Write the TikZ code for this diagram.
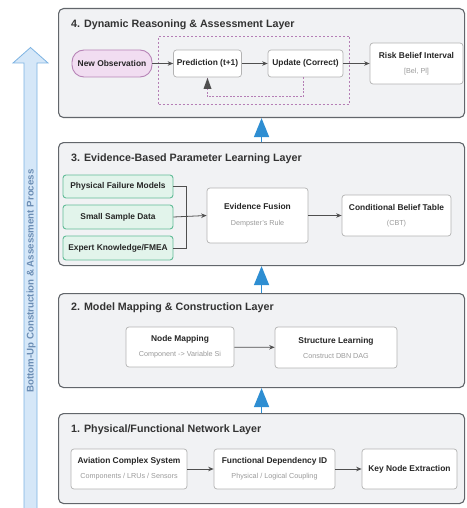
\documentclass[tikz,border=0pt]{standalone}
\usepackage{fontspec}
\setmainfont{Liberation Sans}
\usetikzlibrary{arrows.meta}
\definecolor{layerfill}{HTML}{F1F2F4}
\definecolor{layerdraw}{HTML}{62666B}
\definecolor{boxdraw}{HTML}{B3B3B3}
\definecolor{subgray}{HTML}{9A9A9A}
\definecolor{titlegray}{HTML}{333333}
\definecolor{greenfill}{HTML}{E2F4EB}
\definecolor{greendraw}{HTML}{62BC98}
\definecolor{pinkfill}{HTML}{F1DDF1}
\definecolor{pinkdraw}{HTML}{B784B7}
\definecolor{dashpurple}{HTML}{B57EB5}
\definecolor{conn}{HTML}{4F4F4F}
\definecolor{bluetri}{HTML}{2E8ED2}
\definecolor{sidefill}{HTML}{D5E7F8}
\definecolor{sidedraw}{HTML}{7DB3E2}
\definecolor{sidetext}{HTML}{6B8DB4}
\newcommand{\subtxt}[1]{{\fontsize{7.2}{9}\selectfont\mdseries\color{subgray}#1}}
\begin{document}
\begin{tikzpicture}[x=1pt,y=-1pt,
  layer/.style={draw=layerdraw, fill=layerfill, line width=1.1pt, rounded corners=5pt, anchor=north west, inner sep=0pt},
  title/.style={anchor=west, font=\fontsize{10.7}{12}\selectfont\bfseries, text=titlegray, inner sep=0pt},
  box/.style={draw=boxdraw, fill=white, line width=0.7pt, rounded corners=3pt, inner sep=1pt, align=center,
    font=\fontsize{8.4}{15}\selectfont\bfseries, text=black!85},
  gbox/.style={box, draw=greendraw, fill=greenfill, line width=0.9pt},
  pill/.style={box, draw=pinkdraw, fill=pinkfill, rounded corners=12pt, line width=0.9pt},
  arr/.style={draw=conn, line width=0.8pt, -{Stealth[length=5.5pt,width=4.5pt]}},
  line/.style={draw=conn, line width=0.8pt},
  fb/.style={draw=dashpurple, line width=1pt, dash pattern=on 2pt off 1.5pt},
  uparrow/.style={draw=bluetri, line width=1.6pt, -{Triangle[length=19pt,width=15pt]}}
]
\useasboundingbox (0,0) rectangle (466,508);

% side arrow
\draw[fill=sidefill, draw=sidedraw, line width=0.8pt]
  (24,509) -- (24,63) -- (13,63) -- (30.5,47.5) -- (48,63) -- (37,63) -- (37,509);
\node[rotate=90, font=\fontsize{9.7}{11}\selectfont\bfseries, text=sidetext, inner sep=0pt] (side) at (31,281) {Bottom-Up Construction \& Assessment Process};

% layers
\node[layer, minimum width=406pt, minimum height=109pt] (L4) at (58,8) {};
\node[layer, minimum width=406pt, minimum height=123pt] (L3) at (58,142) {};
\node[layer, minimum width=406pt, minimum height=94pt] (L2) at (58,293) {};
\node[layer, minimum width=406pt, minimum height=90pt] (L1) at (58,413) {};

\node[title] (T4) at (71,25) {4. Dynamic Reasoning \& Assessment Layer};
\node[title] (T3) at (71,159) {3. Evidence-Based Parameter Learning Layer};
\node[title] (T2) at (71,308) {2. Model Mapping \& Construction Layer};
\node[title] (T1) at (71,430) {1. Physical/Functional Network Layer};

% inter-layer arrows
\draw[uparrow] (L3.north) -- (L4.south);
\draw[uparrow] (L2.north) -- (L3.south);
\draw[uparrow] (L1.north) -- (L2.south);

% layer 4
\node[draw=dashpurple, line width=0.9pt, dash pattern=on 2pt off 2pt, minimum width=191pt, minimum height=68pt, inner sep=0pt] (loop) at (254,70) {};
\node[pill, minimum width=80pt, minimum height=27pt] (obs) at (112,63.5) {New Observation};
\node[box, minimum width=68pt, minimum height=27pt] (pred) at (207.5,63.5) {Prediction (t+1)};
\node[box, minimum width=75pt, minimum height=27pt] (upd) at (305.5,63.5) {Update (Correct)};
\node[box, minimum width=93pt, minimum height=41pt] (risk) at (416.5,63.5) {Risk Belief Interval\\\subtxt{[Bel, Pl]}};
\draw[arr] (obs) -- (pred);
\draw[arr] (pred) -- (upd);
\draw[arr] (upd) -- (risk);
\coordinate (fb1) at (303,97);
\coordinate (fb2) at (207,97);
\draw[fb] (upd.south -| fb1) -- (fb1) -- (fb2) -- (fb2 |- pred.south);
\fill[conn] (pred.south) ++(0,0.5) -- ++(-4,11) -- ++(8,0) -- cycle;

% layer 3
\node[gbox, minimum width=110pt, minimum height=23pt] (pfm) at (118,186.5) {Physical Failure Models};
\node[gbox, minimum width=110pt, minimum height=24pt] (ssd) at (118,217) {Small Sample Data};
\node[gbox, minimum width=110pt, minimum height=24pt] (ekf) at (118,248) {Expert Knowledge/FMEA};
\node[box, minimum width=101pt, minimum height=55pt] (ef) at (257.5,215.5) {Evidence Fusion\\[1pt]\subtxt{Dempster's Rule}};
\node[box, minimum width=109pt, minimum height=41pt] (cbt) at (396.5,215.5) {Conditional Belief Table\\\subtxt{(CBT)}};
\coordinate (bus) at (186,217);
\draw[line] (pfm.east) -| (bus);
\draw[line] (ekf.east) -| (bus);
\draw[arr] (ssd.east) -- (ef.west);
\draw[arr] (ef) -- (cbt);

% layer 2
\node[box, minimum width=108pt, minimum height=40pt] (nm) at (180,347) {Node Mapping\\\subtxt{Component -> Variable Si}};
\node[box, minimum width=122pt, minimum height=41pt] (sl) at (336,347.5) {Structure Learning\\\subtxt{Construct DBN DAG}};
\draw[arr] (nm) -- (sl);

% layer 1
\node[box, minimum width=116pt, minimum height=40pt] (acs) at (129,469) {Aviation Complex System\\\subtxt{Components / LRUs / Sensors}};
\node[box, minimum width=121pt, minimum height=40pt] (fdi) at (274.5,469) {Functional Dependency ID\\\subtxt{Physical / Logical Coupling}};
\node[box, minimum width=95pt, minimum height=40pt] (kne) at (409.5,469) {Key Node Extraction};
\draw[arr] (acs) -- (fdi);
\draw[arr] (fdi) -- (kne);
\end{tikzpicture}
\end{document}
